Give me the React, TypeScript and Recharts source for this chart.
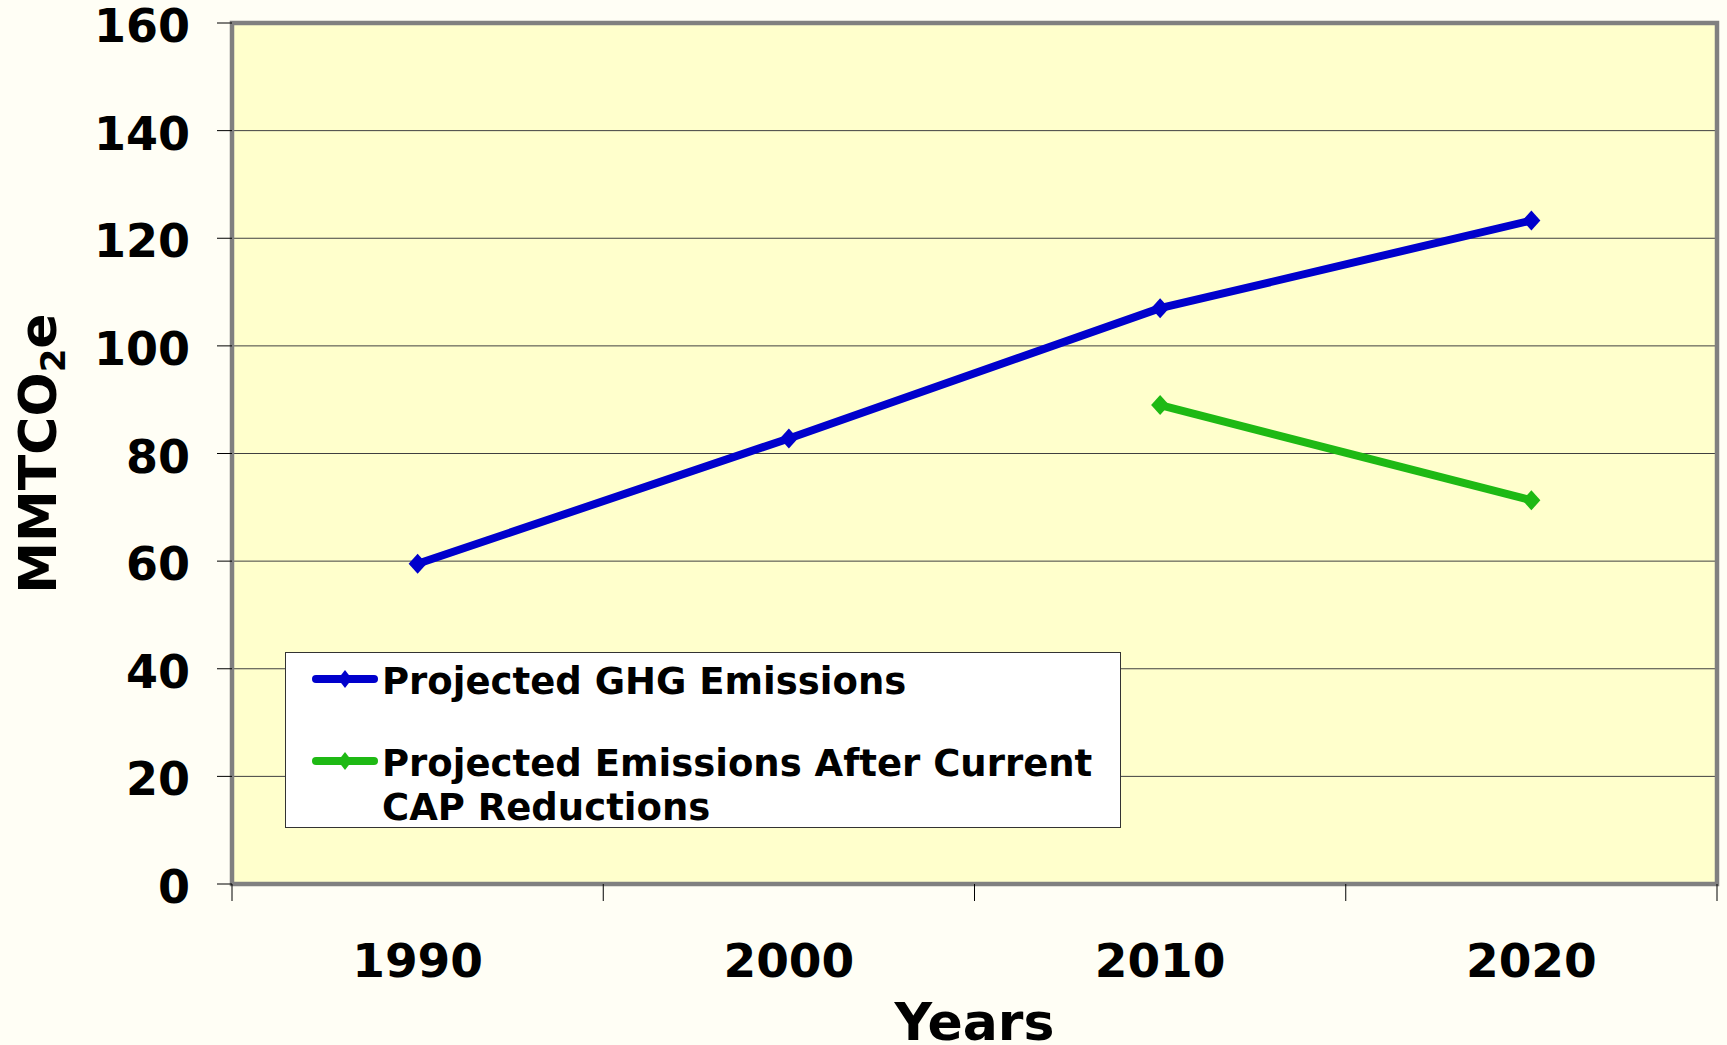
import { LineChart, Line, XAxis, YAxis, CartesianGrid, ReferenceArea, Legend } from "recharts";

const years = [1990, 2000, 2010, 2020];
const projectedGhg = [59.5, 82.8, 107.0, 123.3];
const afterCap = [null, null, 89.0, 71.3];
const yTicks = [0, 20, 40, 60, 80, 100, 120, 140, 160];
const bandEdges = [1985, 1995, 2005, 2015, 2025];

const FONT = "'DejaVu Sans', Verdana, sans-serif";
const BLUE = "#0000CC";
const GREEN = "#1EB914";

const series = [
  { key: "ghg", name: "Projected GHG Emissions", color: BLUE },
  { key: "cap", name: "Projected Emissions After Current CAP Reductions", color: GREEN },
];

const data = years.map((year, i) => ({ year, ghg: projectedGhg[i], cap: afterCap[i] }));
const xTicks = [...years, ...bandEdges].sort((a, b) => a - b);

function Diamond(color: string) {
  return (props: any) => {
    const { cx, cy, index } = props;
    if (cx == null || cy == null || props.value == null) return <g key={`d-${index}`} />;
    const rx = 9;
    const ry = 10;
    return (
      <polygon
        key={`d-${index}`}
        points={`${cx},${cy - ry} ${cx + rx},${cy} ${cx},${cy + ry} ${cx - rx},${cy}`}
        fill={color}
      />
    );
  };
}

function XTick(props: any) {
  const { x, y, payload } = props;
  if (years.includes(payload.value)) {
    return (
      <text x={x} y={y + 93} textAnchor="middle" fontFamily={FONT} fontWeight="bold" fontSize={47} fill="#000">
        {payload.value}
      </text>
    );
  }
  return <line x1={x} x2={x} y1={y} y2={y + 17} stroke="#000" strokeWidth={1} />;
}

function YTick(props: any) {
  const { x, y, payload } = props;
  return (
    <text x={x} y={y + 19} textAnchor="end" fontFamily={FONT} fontWeight="bold" fontSize={46} fill="#000">
      {payload.value}
    </text>
  );
}

function YTitle(props: any) {
  const { viewBox } = props;
  const cy = viewBox.y + viewBox.height / 2;
  const x = 56;
  return (
    <text
      x={x}
      y={cy}
      transform={`rotate(-90, ${x}, ${cy})`}
      textAnchor="middle"
      fontFamily={FONT}
      fontWeight="bold"
      fontSize={52}
      fill="#000"
    >
      MMTCO
      <tspan fontSize={34} dy={9}>2</tspan>
      <tspan dy={-9}>e</tspan>
    </text>
  );
}

function XTitle(props: any) {
  const { viewBox } = props;
  return (
    <text
      x={viewBox.x + viewBox.width / 2}
      y={viewBox.y + 156}
      textAnchor="middle"
      fontFamily={FONT}
      fontWeight="bold"
      fontSize={52}
      fill="#000"
    >
      Years
    </text>
  );
}

function LegendBox() {
  const rows = [
    { top: 7, iconY: 26 },
    { top: 89, iconY: 108 },
  ];
  return (
    <div
      style={{
        position: "relative",
        width: 836,
        height: 176,
        boxSizing: "border-box",
        border: "1.5px solid #333",
        background: "#fff",
        fontFamily: FONT,
        fontWeight: "bold",
        fontSize: 37,
        lineHeight: "44px",
        color: "#000",
        textAlign: "left",
      }}
    >
      {series.map((s, i) => (
        <div key={s.key}>
          <svg
            width={66}
            height={22}
            style={{ position: "absolute", left: 26, top: rows[i].iconY - 11 }}
          >
            <line x1={4} x2={62} y1={11} y2={11} stroke={s.color} strokeWidth={8} strokeLinecap="round" />
            <polygon points="33,2 40,11 33,20 26,11" fill={s.color} />
          </svg>
          <div style={{ position: "absolute", left: 96, top: rows[i].top, width: 730 }}>{s.name}</div>
        </div>
      ))}
    </div>
  );
}

export default function App() {
  return (
    <div style={{ position: "absolute", left: 0, top: 0, width: 1727, height: 1045, background: "#FFFEF5" }}>
      <LineChart width={1727} height={1045} data={data} margin={{ top: 23, right: 10, left: 0, bottom: 0 }}>
        <CartesianGrid vertical={false} fill="#FFFFCC" stroke="#404040" strokeWidth={1} />
        <XAxis
          dataKey="year"
          type="number"
          domain={[1985, 2025]}
          ticks={xTicks}
          interval={0}
          tick={<XTick />}
          tickLine={false}
          tickSize={0}
          tickMargin={0}
          axisLine={false}
          height={161}
          label={<XTitle />}
        />
        <YAxis
          type="number"
          domain={[0, 160]}
          ticks={yTicks}
          interval={0}
          width={232}
          tickSize={15}
          tickMargin={27}
          tickLine={{ stroke: "#000", strokeWidth: 1 }}
          axisLine={false}
          tick={<YTick />}
          label={<YTitle />}
        />
        <ReferenceArea
          x1={1985}
          x2={2025}
          y1={0}
          y2={160}
          fill="none"
          fillOpacity={0}
          stroke="#808080"
          strokeWidth={4.5}
          ifOverflow="visible"
        />
        <Legend
          layout="horizontal"
          verticalAlign="middle"
          align="center"
          content={<LegendBox />}
          wrapperStyle={{ left: 285, top: 652, width: 836, height: 178 }}
        />
        {series.map(s => (
          <Line
            key={s.key}
            dataKey={s.key}
            name={s.name}
            stroke={s.color}
            strokeWidth={8}
            dot={Diamond(s.color)}
            activeDot={false}
            isAnimationActive={false}
            connectNulls={false}
          />
        ))}
      </LineChart>
    </div>
  );
}
